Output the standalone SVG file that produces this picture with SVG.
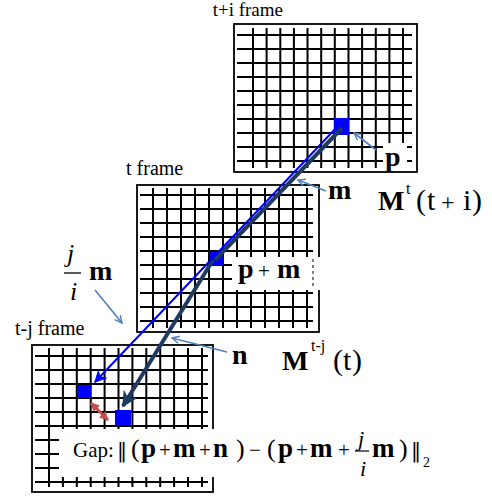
<svg xmlns="http://www.w3.org/2000/svg" width="492" height="497" viewBox="0 0 492 497">
<style>
.outer{fill:none;stroke:#000;stroke-width:1.8}
.grid{fill:none;stroke:#000;stroke-width:2}
.mask{fill:#fff;stroke:none}
.px{fill:#0000ff}
.lbl{font-family:"Liberation Serif","Times New Roman",serif;fill:#000}
.b{font-weight:bold}
.it{font-style:italic}
.op{font-size:21px}
.call{fill:none;stroke:#4f81bd;stroke-width:1.6}
</style>
<defs>
<marker id="openArr" viewBox="0 0 10 10" refX="9" refY="5" markerWidth="9" markerHeight="9" markerUnits="userSpaceOnUse" orient="auto">
<path d="M1,1 L9,5 L1,9" fill="none" stroke="#4f81bd" stroke-width="1.6"/>
</marker>
<marker id="blueArr" viewBox="0 0 10 10" refX="9" refY="5" markerWidth="13" markerHeight="13" markerUnits="userSpaceOnUse" orient="auto">
<path d="M0,0 L10,5 L0,10 L3,5 z" fill="#0000ff"/>
</marker>
<marker id="darkArr" viewBox="0 0 10 10" refX="9" refY="5" markerWidth="16" markerHeight="16" markerUnits="userSpaceOnUse" orient="auto">
<path d="M0,0 L10,5 L0,10 L3,5 z" fill="#1f3a5f"/>
</marker>
<marker id="redEnd" viewBox="0 0 10 10" refX="9" refY="5" markerWidth="9" markerHeight="9" markerUnits="userSpaceOnUse" orient="auto">
<path d="M0,0 L10,5 L0,10 z" fill="#c0504d"/>
</marker>
<marker id="redStart" viewBox="0 0 10 10" refX="1" refY="5" markerWidth="9" markerHeight="9" markerUnits="userSpaceOnUse" orient="auto">
<path d="M10,0 L0,5 L10,10 z" fill="#c0504d"/>
</marker>
</defs>
<rect width="492" height="497" fill="#fff"/>

<g id="frame-t-plus-i">
<text class="lbl" x="283" y="16" font-size="19" text-anchor="end">t+i frame</text>
<rect class="outer" x="234" y="24" width="183" height="148"/>
<path class="grid" d="M237,35H412M237,49H412M237,63H412M237,77H412M237,91H412M237,105H412M237,119H412M237,133H412M237,147H412M237,161H412
M253,28V168M266.6,28V168M280.3,28V168M293.9,28V168M307.5,28V168M321.2,28V168M334.8,28V168M348.5,28V168M362.1,28V168M375.8,28V168M389.4,28V168M403,28V168"/>
<rect class="mask" x="383" y="143" width="24" height="27"/>
<rect class="px" x="334" y="118" width="15" height="17"/>
<text class="lbl b" x="385" y="166" font-size="28">p</text>
</g>

<g id="frame-t">
<text class="lbl" x="126" y="175" font-size="20">t frame</text>
<rect class="outer" x="137" y="185" width="182" height="147"/>
<path class="grid" d="M140,195H313M140,209H313M140,223H313M140,237H313M140,251H313M140,265H313M140,279H313M140,293H313M140,307H313M140,321H313
M153,188V328M167,188V328M181,188V328M195,188V328M209,188V328M223,188V328M237,188V328M251,188V328M265,188V328M279,188V328M293,188V328M307,188V328"/>
<rect class="mask" x="232" y="257" width="89" height="33"/>
<path d="M313,259V289" stroke="#000" stroke-width="1" stroke-dasharray="3,3"/>
<rect class="px" x="210" y="252" width="13" height="13"/>
<text class="lbl" y="278" font-size="28"><tspan class="b" x="238">p</tspan><tspan class="op" x="258">+</tspan><tspan class="b" x="277">m</tspan></text>
</g>

<g id="frame-t-minus-j">
<text class="lbl" x="15" y="335" font-size="20">t-j frame</text>
<rect class="outer" x="32" y="345" width="181" height="147"/>
<path class="grid" d="M35,356H208M35,370H208M35,384H208M35,398H208M35,412H208M35,426H208M35,440H208M35,454H208M35,468H208M35,482H208
M49,348V487M62.9,348V487M76.8,348V487M90.7,348V487M104.6,348V487M118.5,348V487M132.4,348V487M146.3,348V487M160.2,348V487M174.1,348V487M188,348V487M202,348V487"/>
<rect class="mask" x="59" y="429" width="396" height="48"/>
<rect class="px" x="77" y="385" width="14" height="13"/>
<rect class="px" x="115" y="410" width="16" height="15"/>
</g>

<g id="connectors">
<line x1="342" y1="128" x2="215" y2="260" stroke="#1f3a5f" stroke-width="4"/>
<line x1="213" y1="260" x2="123" y2="406" stroke="#1f3a5f" stroke-width="4" marker-end="url(#darkArr)"/>
<line x1="338" y1="126" x2="95" y2="382" stroke="#0000ff" stroke-width="2" marker-end="url(#blueArr)"/>
<line x1="91" y1="403" x2="108" y2="420" stroke="#c0504d" stroke-width="3" marker-start="url(#redStart)" marker-end="url(#redEnd)"/>
<line class="call" x1="376" y1="150" x2="354" y2="133" marker-end="url(#openArr)"/>
<line class="call" x1="326" y1="191" x2="298" y2="180" marker-end="url(#openArr)"/>
<line class="call" x1="95" y1="290" x2="122" y2="323" marker-end="url(#openArr)"/>
<line class="call" x1="227" y1="352" x2="172" y2="338" marker-end="url(#openArr)"/>
</g>

<g id="labels">
<text class="lbl b" x="328" y="199" font-size="28">m</text>
<text class="lbl" y="210" font-size="30"><tspan class="b" x="378" font-size="28">M</tspan><tspan x="406" y="194" font-size="16">t</tspan><tspan x="416" y="210">(</tspan><tspan x="427">t</tspan><tspan x="441" font-size="24">+</tspan><tspan x="463">i</tspan><tspan x="472">)</tspan></text>
<text class="lbl it" x="67" y="262" font-size="26">j</text>
<line x1="64" y1="273" x2="81" y2="273" stroke="#000" stroke-width="1.3"/>
<text class="lbl it" x="70" y="300" font-size="26">i</text>
<text class="lbl b" x="89" y="280" font-size="28">m</text>
<text class="lbl b" x="232" y="364" font-size="28">n</text>
<text class="lbl" y="370" font-size="30"><tspan class="b" x="282" font-size="28">M</tspan><tspan x="311" y="351" font-size="16">t-j</tspan><tspan x="333" y="370">(</tspan><tspan x="343">t</tspan><tspan x="352">)</tspan></text>
<text class="lbl" y="457" font-size="26"><tspan x="73" font-size="21">Gap:</tspan><tspan x="117" font-family="DejaVu Serif" font-size="20">‖</tspan><tspan x="131">(</tspan><tspan class="b" x="141" font-size="27">p</tspan><tspan class="op" x="159">+</tspan><tspan class="b" x="173" font-size="27">m</tspan><tspan class="op" x="199">+</tspan><tspan class="b" x="213" font-size="27">n</tspan><tspan x="236">)</tspan><tspan class="op" x="249">−</tspan><tspan x="267">(</tspan><tspan class="b" x="278" font-size="27">p</tspan><tspan class="op" x="296">+</tspan><tspan class="b" x="310" font-size="27">m</tspan><tspan class="op" x="338">+</tspan><tspan class="b" x="372" font-size="27">m</tspan><tspan x="399">)</tspan><tspan x="411" font-family="DejaVu Serif" font-size="20">‖</tspan><tspan x="423" y="467" font-size="14">2</tspan></text>
<text class="lbl it" x="358" y="446" font-size="22">j</text>
<line x1="355" y1="451" x2="369" y2="451" stroke="#000" stroke-width="1.2"/>
<text class="lbl it" x="360" y="476" font-size="22">i</text>
</g>
</svg>
